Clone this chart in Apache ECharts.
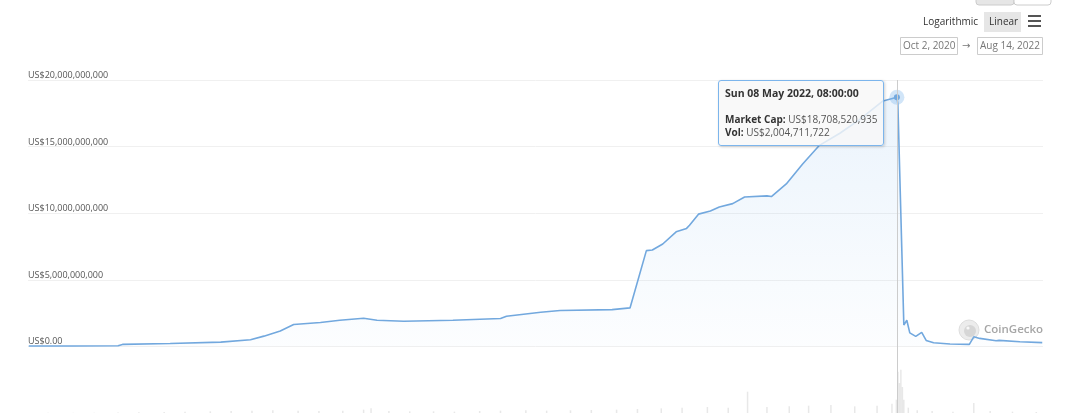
<!DOCTYPE html>
<html>
<head>
<meta charset="utf-8">
<script src="https://cdn.jsdelivr.net/npm/echarts@6/dist/echarts.min.js"></script>
<style>
html,body{margin:0;padding:0;background:#fff;}
#chart{width:1080px;height:413px;}
</style>
</head>
<body>
<div id="chart"></div>
<script>
// Market cap (US$ billions)
const capDates = ['2020-10-02','2020-11-01','2020-12-01','2020-12-04','2021-01-05','2021-02-08','2021-02-28','2021-03-09','2021-03-20','2021-03-29','2021-04-16','2021-04-29','2021-05-15','2021-05-24','2021-06-11','2021-07-14','2021-08-15','2021-08-19','2021-09-11','2021-09-24','2021-10-29','2021-11-10','2021-11-21','2021-11-25','2021-12-02','2021-12-11','2021-12-18','2021-12-20','2021-12-26','2022-01-03','2022-01-09','2022-01-18','2022-01-26','2022-02-10','2022-02-13','2022-02-23','2022-03-06','2022-03-17','2022-03-31','2022-04-13','2022-04-29','2022-05-08 08:00','2022-05-09','2022-05-13','2022-05-15','2022-05-17','2022-05-21','2022-05-25','2022-05-28','2022-06-02','2022-06-13','2022-06-26','2022-06-29','2022-07-03','2022-07-14','2022-07-16','2022-07-30','2022-08-14'];
const capValues = [0.03,0.03,0.05,0.15,0.22,0.32,0.5,0.77,1.15,1.64,1.8,1.96,2.11,1.96,1.89,1.96,2.09,2.26,2.56,2.69,2.76,2.89,7.19,7.24,7.69,8.6,8.86,9.1,9.93,10.17,10.47,10.72,11.22,11.3,11.25,12.2,13.7,15.07,16.0,17.0,18.43,18.7085,18.2,1.6,1.96,1.02,0.75,1.05,0.45,0.27,0.18,0.15,0.72,0.6,0.42,0.45,0.35,0.28];

// Volume (US$ billions)
const volDates = ['2020-10-15','2020-11-01','2020-11-15','2020-12-01','2020-12-15','2021-01-01','2021-01-15','2021-02-01','2021-02-15','2021-03-01','2021-03-15','2021-04-01','2021-04-15','2021-05-01','2021-05-15','2021-05-20','2021-06-01','2021-06-15','2021-07-01','2021-07-15','2021-08-01','2021-08-15','2021-09-01','2021-09-15','2021-10-01','2021-10-15','2021-11-01','2021-11-15','2021-12-01','2021-12-15','2022-01-01','2022-01-15','2022-01-28','2022-02-10','2022-02-25','2022-03-10','2022-03-25','2022-04-10','2022-04-25','2022-05-05','2022-05-08','2022-05-09','2022-05-10','2022-05-11','2022-05-12','2022-05-13','2022-05-16','2022-05-22','2022-06-01','2022-06-15','2022-06-29','2022-07-10','2022-07-25','2022-08-10'];
const volValues = [0.02,0.03,0.03,0.08,0.12,0.15,0.2,0.25,0.3,0.35,0.4,0.35,0.3,0.35,0.5,0.7,0.3,0.25,0.25,0.2,0.3,0.35,0.4,0.35,0.4,0.45,0.5,0.6,0.7,0.8,0.9,0.8,3.2,0.9,1.0,1.1,1.2,1.0,1.1,1.4,2.0,6.2,4.5,6.5,3.9,2.0,0.8,0.4,0.3,0.2,1.5,0.3,0.2,0.15];

const tipIndex = 41;
const tipLabel = 'Sun 08 May 2022, 08:00:00';
const tipCap = 18708520935;
const tipVol = 2004711722;
const rangeFrom = 'Oct 2, 2020';
const rangeTo = 'Aug 14, 2022';

const FONT = "'Open Sans', 'Noto Sans', sans-serif";
const capData = capDates.map((d,i)=>[d, capValues[i]]);
const volData = volDates.map((d,i)=>[d, volValues[i]]);
const fmtUS = v => 'US$' + Math.round(v).toLocaleString('en-US');

const chart = echarts.init(document.getElementById('chart'), null, {renderer:'canvas'});
const option = {
  animation:false,
  backgroundColor:'#fff',
  grid:{left:28,right:37,top:80,bottom:0,containLabel:false},
  tooltip:{
    trigger:'axis',
    triggerOn:'none',
    alwaysShowContent:true,
    position:[718,80],
    backgroundColor:'rgba(247,247,247,0.8)',
    borderColor:'#7cb5ec',
    borderWidth:1,
    padding:[6,6,7,6],
    extraCssText:'border-radius:3px;box-shadow:1px 1px 3px rgba(0,0,0,0.18);',
    textStyle:{fontFamily:FONT,fontSize:10,color:'#333'},
    axisPointer:{type:'line',lineStyle:{color:'#cccccc',width:1,type:'solid'},label:{show:false}},
    formatter:function(){
      return '<div style="font-family:Open Sans,Noto Sans,sans-serif;font-size:10px;color:#333;line-height:12.5px">'+
        '<div style="font-weight:bold;line-height:13px;font-size:10.5px">'+tipLabel+'</div>'+
        '<div style="height:13px"></div>'+
        '<div><b>Market Cap:</b> <span style="color:#555">'+fmtUS(tipCap)+'</span></div>'+
        '<div><b>Vol:</b> <span style="color:#555">'+fmtUS(tipVol)+'</span></div></div>';
    }
  },
  xAxis:{
    type:'time',
    min:'2020-10-02',
    max:'2022-08-14',
    axisLine:{show:false},axisTick:{show:false},axisLabel:{show:false},splitLine:{show:false}
  },
  yAxis:[{
    type:'value',
    min:-5,max:20,interval:5,
    axisLine:{show:false},axisTick:{show:false},
    splitLine:{lineStyle:{color:'#f0f0f0',width:1}},
    axisLabel:{
      inside:true,margin:0,verticalAlign:'bottom',
      fontFamily:FONT,fontSize:9,color:'#555',
      formatter:function(v){ if(v<0) return ''; return v===0?'US$0.00':fmtUS(v*1e9); }
    }
  },{
    type:'value',min:0,max:50,show:false,splitLine:{show:false}
  }],
  series:[{
    type:'bar',
    yAxisIndex:1,
    data:volData,
    barWidth:1.5,
    itemStyle:{color:'rgba(205,205,205,0.45)'},
    silent:true,
    z:1
  },{
    type:'line',
    data:capData,
    showSymbol:false,
    symbol:'none',
    lineStyle:{color:'#72a8de',width:1.6},
    areaStyle:{color:new echarts.graphic.LinearGradient(0,0,0,1,[
      {offset:0,color:'rgba(124,181,236,0.22)'},
      {offset:1,color:'rgba(124,181,236,0.03)'}
    ])},
    emphasis:{disabled:true},
    markPoint:{
      silent:true,
      label:{show:false},
      data:[
        {coord:capData[tipIndex],symbol:'circle',symbolSize:15,itemStyle:{color:'rgba(124,181,236,0.35)'}},
        {coord:capData[tipIndex],symbol:'circle',symbolSize:6,itemStyle:{color:'#72a8de'}}
      ]
    },
    z:3
  }],
  graphic:[
    {type:'rect',shape:{x:976,y:-12,width:38,height:17,r:3},style:{fill:'#e6e6e6',stroke:'#cccccc',lineWidth:1}},
    {type:'rect',shape:{x:1014,y:-12,width:37,height:17,r:3},style:{fill:'#ffffff',stroke:'#cccccc',lineWidth:1}},
    {type:'text',x:923,y:22,style:{text:'Logarithmic',font:'10px '+FONT,fill:'#333',textVerticalAlign:'middle'}},
    {type:'rect',shape:{x:984,y:12,width:37,height:20},style:{fill:'#e6e6e6'}},
    {type:'text',x:989,y:22,style:{text:'Linear',font:'10px '+FONT,fill:'#333',textVerticalAlign:'middle'}},
    {type:'rect',shape:{x:1028,y:15,width:13,height:2},style:{fill:'#555'}},
    {type:'rect',shape:{x:1028,y:20,width:13,height:2},style:{fill:'#555'}},
    {type:'rect',shape:{x:1028,y:25,width:13,height:2},style:{fill:'#555'}},
    {type:'rect',shape:{x:900.5,y:37.5,width:57,height:17},style:{fill:'#fff',stroke:'#cccccc',lineWidth:1}},
    {type:'text',x:903,y:46,style:{text:rangeFrom,font:'10px '+FONT,fill:'#777',textVerticalAlign:'middle'}},
    {type:'text',x:962,y:46,style:{text:'\u2192',font:'10px DejaVu Sans',fill:'#777',textVerticalAlign:'middle'}},
    {type:'rect',shape:{x:977.5,y:37.5,width:65,height:17},style:{fill:'#fff',stroke:'#cccccc',lineWidth:1}},
    {type:'text',x:980,y:46,style:{text:rangeTo,font:'10px '+FONT,fill:'#777',textVerticalAlign:'middle'}},
    {type:'circle',shape:{cx:969,cy:330,r:10},style:{fill:'#ececec',stroke:'#dedede',lineWidth:1}},
    {type:'circle',shape:{cx:970,cy:331,r:6},style:{fill:'#d6d6d6'}},
    {type:'circle',shape:{cx:968,cy:328,r:1.6},style:{fill:'#f8f8f8'}},
    {type:'text',x:984,y:330,style:{text:'CoinGecko',font:'600 11.5px '+FONT,fill:'#a6a6a6',textVerticalAlign:'middle'}}
  ]
};
chart.setOption(option);
chart.dispatchAction({type:'showTip',seriesIndex:1,dataIndex:tipIndex});
</script>
</body>
</html>
